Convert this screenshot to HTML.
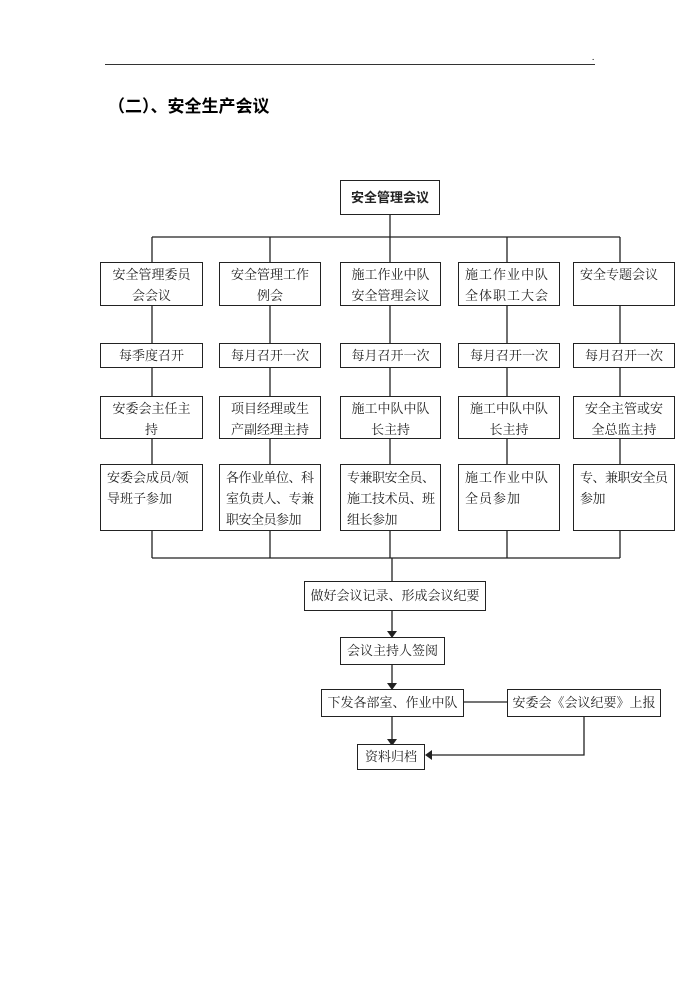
<!DOCTYPE html>
<html><head><meta charset="utf-8"><style>
body{margin:0;width:700px;height:990px;background:#fff;position:relative;overflow:hidden;font-family:"Liberation Serif","Noto Serif CJK SC",serif;}
.b{position:absolute;border:1.3px solid #222;box-sizing:border-box;font-size:13px;line-height:21px;color:#222;background:#fff;white-space:nowrap;}
.c{text-align:center;}
.l{text-align:left;padding-left:6px;}
.h{position:absolute;background:#333;}
</style></head><body>
<div class="h" style="left:105px;top:64px;width:490px;height:1px;"></div>
<div style="position:absolute;left:592px;top:52px;font-size:9px;">.</div>
<div style="position:absolute;left:108px;top:92px;font-size:17px;font-weight:bold;font-family:'Liberation Sans','Noto Sans CJK SC',sans-serif;">（二）、安全生产会议</div>
<svg width="700" height="990" style="position:absolute;left:0;top:0" stroke="#222" stroke-width="1.3" fill="none">
<line x1="390" y1="215" x2="390" y2="237"/>
<line x1="152" y1="237" x2="620" y2="237"/>
<line x1="152" y1="237" x2="152" y2="558"/>
<line x1="270" y1="237" x2="270" y2="558"/>
<line x1="390" y1="237" x2="390" y2="558"/>
<line x1="507" y1="237" x2="507" y2="558"/>
<line x1="620" y1="237" x2="620" y2="558"/>
<line x1="152" y1="558" x2="620" y2="558"/>
<line x1="392" y1="558" x2="392" y2="582"/>
<line x1="392" y1="610" x2="392" y2="632"/>
<line x1="392" y1="664" x2="392" y2="684"/>
<line x1="392" y1="716" x2="392" y2="740"/>
<line x1="463" y1="702" x2="507" y2="702"/>
<polyline points="584,716 584,755 432,755"/>
<g fill="#222" stroke="none">
<polygon points="387,631 397,631 392,638"/>
<polygon points="387,683 397,683 392,690"/>
<polygon points="387,739 397,739 392,746"/>
<polygon points="432,750 432,760 425,755"/>
</g>
</svg>
<div class="b c" style="left:340px;top:180px;width:100px;height:35px;line-height:33px;font-weight:bold;font-family:'Liberation Sans','Noto Sans CJK SC',sans-serif;">安全管理会议</div>

<div class="b c" style="left:100px;top:262px;width:103px;height:44px;padding-top:1px;">安全管理委员<br>会会议</div>
<div class="b c" style="left:219px;top:262px;width:102px;height:44px;padding-top:1px;">安全管理工作<br>例会</div>
<div class="b c" style="left:340px;top:262px;width:101px;height:44px;padding-top:1px;">施工作业中队<br>安全管理会议</div>
<div class="b l" style="left:458px;top:262px;width:102px;height:44px;padding-top:1px;letter-spacing:1px;">施工作业中队<br>全体职工大会</div>
<div class="b l" style="left:573px;top:262px;width:102px;height:44px;padding-top:1px;">安全专题会议</div>

<div class="b c" style="left:100px;top:343px;width:103px;height:25px;line-height:23px;">每季度召开</div>
<div class="b c" style="left:219px;top:343px;width:102px;height:25px;line-height:23px;">每月召开一次</div>
<div class="b c" style="left:340px;top:343px;width:101px;height:25px;line-height:23px;">每月召开一次</div>
<div class="b c" style="left:458px;top:343px;width:102px;height:25px;line-height:23px;">每月召开一次</div>
<div class="b c" style="left:573px;top:343px;width:102px;height:25px;line-height:23px;">每月召开一次</div>

<div class="b c" style="left:100px;top:396px;width:103px;height:43px;padding-top:1px;">安委会主任主<br>持</div>
<div class="b c" style="left:219px;top:396px;width:102px;height:43px;padding-top:1px;">项目经理或生<br>产副经理主持</div>
<div class="b c" style="left:340px;top:396px;width:101px;height:43px;padding-top:1px;">施工中队中队<br>长主持</div>
<div class="b c" style="left:458px;top:396px;width:102px;height:43px;padding-top:1px;">施工中队中队<br>长主持</div>
<div class="b c" style="left:573px;top:396px;width:102px;height:43px;padding-top:1px;">安全主管或安<br>全总监主持</div>

<div class="b l" style="left:100px;top:464px;width:103px;height:67px;padding-top:2px;">安委会成员/领<br>导班子参加</div>
<div class="b l" style="left:219px;top:464px;width:102px;height:67px;padding-top:2px;letter-spacing:-0.5px;">各作业单位、科<br>室负责人、专兼<br>职安全员参加</div>
<div class="b l" style="left:340px;top:464px;width:101px;height:67px;padding-top:2px;letter-spacing:-0.5px;">专兼职安全员、<br>施工技术员、班<br>组长参加</div>
<div class="b l" style="left:458px;top:464px;width:102px;height:67px;padding-top:2px;letter-spacing:1px;">施工作业中队<br>全员参加</div>
<div class="b l" style="left:573px;top:464px;width:102px;height:67px;padding-top:2px;letter-spacing:-0.5px;">专、兼职安全员<br>参加</div>

<div class="b c" style="left:304px;top:581px;width:182px;height:30px;line-height:28px;">做好会议记录、形成会议纪要</div>
<div class="b c" style="left:340px;top:637px;width:105px;height:28px;line-height:26px;">会议主持人签阅</div>
<div class="b c" style="left:321px;top:689px;width:143px;height:28px;line-height:26px;">下发各部室、作业中队</div>
<div class="b c" style="left:507px;top:689px;width:154px;height:28px;line-height:26px;">安委会《会议纪要》上报</div>
<div class="b c" style="left:357px;top:744px;width:68px;height:26px;line-height:24px;">资料归档</div>
</body></html>
